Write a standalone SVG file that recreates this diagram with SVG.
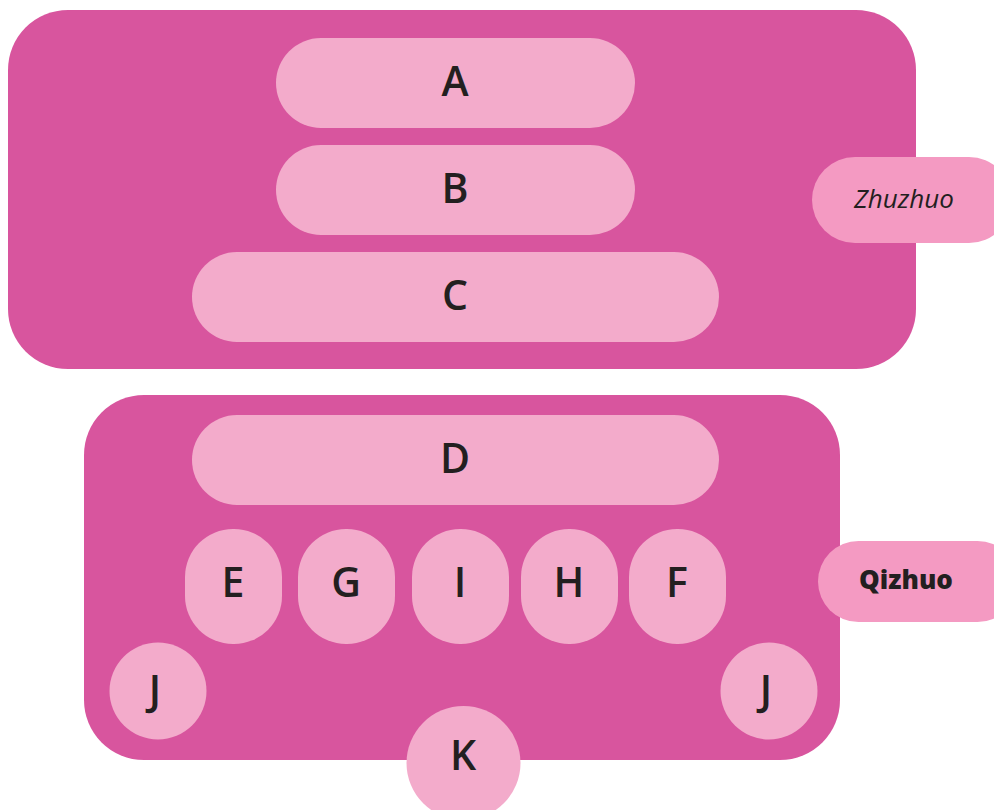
<svg xmlns="http://www.w3.org/2000/svg" width="994" height="810" viewBox="0 0 994 810">
  <style>
    .group { fill: #D8559E; }
    .item { fill: #F3ABCB; }
    .tag { fill: #F49AC2; }
    .lbl { font-family: "Open Sans", "Noto Sans", sans-serif; font-size: 41px; font-weight: 600; fill: #231F20; text-anchor: middle; dominant-baseline: central; }
    .tagtxt { font-family: "Open Sans", "Noto Sans", sans-serif; font-size: 26px; fill: #231F20; text-anchor: middle; dominant-baseline: central; }
  </style>

  <!-- upper group -->
  <g id="zhuzhuo-group">
    <rect class="group" x="8" y="10" width="908" height="359" rx="60"/>
  </g>
  <g id="node-A">
    <rect class="item" x="276" y="38" width="359" height="90" rx="45"/>
    <text class="lbl" x="455" y="80">A</text>
  </g>
  <g id="node-B">
    <rect class="item" x="276" y="145" width="359" height="90" rx="45"/>
    <text class="lbl" x="455" y="187">B</text>
  </g>
  <g id="node-C">
    <rect class="item" x="192" y="252" width="527" height="90" rx="45"/>
    <text class="lbl" x="455" y="294">C</text>
  </g>
  <g id="tag-zhuzhuo">
    <rect class="tag" x="812" y="157" width="200" height="86" rx="43"/>
    <text class="tagtxt" x="904" y="198" font-size="28" font-style="italic">Zhuzhuo</text>
  </g>

  <!-- lower group -->
  <g id="qizhuo-group">
    <rect class="group" x="84" y="395" width="756" height="365" rx="60"/>
  </g>
  <g id="node-D">
    <rect class="item" x="192" y="415" width="527" height="90" rx="45"/>
    <text class="lbl" x="455" y="457">D</text>
  </g>
  <g id="node-E">
    <rect class="item" x="185" y="529" width="97" height="115" rx="48"/>
    <text class="lbl" x="233" y="581">E</text>
  </g>
  <g id="node-G">
    <rect class="item" x="298" y="529" width="97" height="115" rx="48"/>
    <text class="lbl" x="346" y="581">G</text>
  </g>
  <g id="node-I">
    <rect class="item" x="412" y="529" width="97" height="115" rx="48"/>
    <text class="lbl" x="460" y="581">I</text>
  </g>
  <g id="node-H">
    <rect class="item" x="521" y="529" width="97" height="115" rx="48"/>
    <text class="lbl" x="569" y="581">H</text>
  </g>
  <g id="node-F">
    <rect class="item" x="629" y="529" width="97" height="115" rx="48"/>
    <text class="lbl" x="677" y="581">F</text>
  </g>
  <g id="node-J-left">
    <circle class="item" cx="158" cy="691" r="48.5"/>
    <text class="lbl" x="155" y="689">J</text>
  </g>
  <g id="node-J-right">
    <circle class="item" cx="769" cy="691" r="48.5"/>
    <text class="lbl" x="766" y="689">J</text>
  </g>
  <g id="node-K">
    <circle class="item" cx="463.5" cy="763" r="57"/>
    <text class="lbl" x="463" y="754">K</text>
  </g>
  <g id="tag-qizhuo">
    <rect class="tag" x="818" y="541" width="200" height="81" rx="40.5"/>
    <text class="tagtxt" x="906" y="579" font-size="27" font-weight="800">Qizhuo</text>
  </g>

  <g id="connectors"></g>
</svg>
